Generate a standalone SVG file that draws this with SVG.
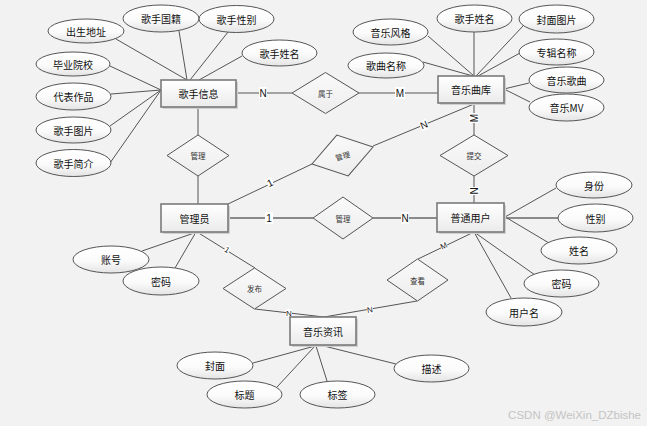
<svg xmlns="http://www.w3.org/2000/svg" width="647" height="426" viewBox="0 0 647 426">
<defs>
<linearGradient id="gE" x1="0" y1="0" x2="0" y2="1"><stop offset="0" stop-color="#ffffff"/><stop offset="0.55" stop-color="#fbfbfb"/><stop offset="1" stop-color="#e4e4e4"/></linearGradient>
<linearGradient id="gR" x1="0" y1="0" x2="0" y2="1"><stop offset="0" stop-color="#ffffff"/><stop offset="1" stop-color="#ebebeb"/></linearGradient>
<linearGradient id="gD" x1="0" y1="0" x2="0" y2="1"><stop offset="0" stop-color="#fafafa"/><stop offset="1" stop-color="#ededed"/></linearGradient>
</defs>
<style>
.e{fill:url(#gE);stroke:#555;stroke-width:1}
.r{fill:url(#gR);stroke:#7a7a7a;stroke-width:1.6}
.rs{fill:#d0d0d0;stroke:none}
.d{fill:url(#gD);stroke:#555;stroke-width:1}
.t{font-family:"Noto Sans CJK SC","Liberation Sans",sans-serif;font-size:10px;fill:#111;text-anchor:middle;dominant-baseline:central}
.dt{font-family:"Noto Sans CJK SC","Liberation Sans",sans-serif;font-size:7.5px;fill:#333;text-anchor:middle;dominant-baseline:central}
.c line{stroke:#555;stroke-width:1}
.c line.thick{stroke:#8a8a8a;stroke-width:2}
.lb{fill:#fff}
.l{font-family:"Liberation Sans",sans-serif;font-size:10px;fill:#111;text-anchor:middle;dominant-baseline:central}
.ls{font-family:"Liberation Sans",sans-serif;font-size:8px;fill:#222;text-anchor:middle;dominant-baseline:central}
</style>
<rect width="647" height="426" fill="#f2f2f2"/>
<g id="connectors" class="c">
<line x1="116" y1="39" x2="187" y2="80"/>
<line x1="179" y1="31" x2="187" y2="80"/>
<line x1="228" y1="32" x2="190" y2="80"/>
<line x1="242" y1="56" x2="199" y2="80"/>
<line x1="110" y1="66" x2="161" y2="90"/>
<line x1="111" y1="94" x2="161" y2="90"/>
<line x1="110" y1="126" x2="161" y2="90"/>
<line x1="110" y1="163" x2="161" y2="90"/>
<line x1="236" y1="93" x2="292" y2="93"/>
<line x1="198" y1="107" x2="198" y2="135"/>
<line x1="198" y1="176" x2="198" y2="204"/>
<line x1="359" y1="93" x2="438" y2="93"/>
<line x1="428" y1="36" x2="474" y2="76"/>
<line x1="474" y1="32" x2="474" y2="76"/>
<line x1="523" y1="26" x2="476" y2="76"/>
<line x1="520" y1="53" x2="478" y2="76"/>
<line x1="423" y1="62" x2="473" y2="76"/>
<line x1="529" y1="83" x2="504" y2="89"/>
<line x1="530" y1="102" x2="504" y2="89"/>
<line x1="474" y1="103" x2="474" y2="135"/>
<line x1="474" y1="176" x2="474" y2="203"/>
<line x1="373" y1="146" x2="474" y2="104"/>
<line x1="228" y1="204" x2="312" y2="164"/>
<line class="thick" x1="228" y1="218" x2="313" y2="218"/>
<line class="thick" x1="373" y1="218" x2="437" y2="218"/>
<line x1="197" y1="232" x2="255" y2="268"/>
<line x1="142" y1="251" x2="197" y2="232"/>
<line x1="175" y1="268" x2="196" y2="232"/>
<line x1="255" y1="309" x2="324" y2="317"/>
<line x1="418" y1="259" x2="474" y2="232"/>
<line x1="417" y1="301" x2="324" y2="317"/>
<line x1="556" y1="188" x2="505" y2="217"/>
<line class="thick" x1="558" y1="218" x2="505" y2="218"/>
<line x1="549" y1="243" x2="507" y2="218"/>
<line x1="474" y1="232" x2="535" y2="275"/>
<line x1="474" y1="232" x2="511" y2="298"/>
<line x1="253" y1="363" x2="315" y2="346"/>
<line x1="277" y1="387" x2="315" y2="346"/>
<line x1="327" y1="381" x2="316" y2="346"/>
<line x1="396" y1="364" x2="320" y2="345"/>
<g id="cardinalities">
<rect class="lb" x="259" y="87" width="8" height="12"/><text class="l" x="263" y="93">N</text>
<rect class="lb" x="395" y="87" width="10" height="12"/><text class="l" x="400" y="93">M</text>
<g transform="translate(474,118) rotate(-90)"><rect class="lb" x="-5" y="-5" width="10" height="10"/><text class="l" x="0" y="0">M</text></g>
<g transform="translate(474,191) rotate(-90)"><rect class="lb" x="-4" y="-5" width="8" height="10"/><text class="l" x="0" y="0">N</text></g>
<g transform="translate(424,125) rotate(-22.6)"><rect class="lb" x="-4" y="-5" width="8" height="10"/><text class="l" x="0" y="0">N</text></g>
<g transform="translate(270,183) rotate(-25.5)"><rect class="lb" x="-3" y="-5" width="6" height="10"/><text class="l" x="0" y="0">1</text></g>
<rect class="lb" x="265" y="212" width="8" height="12"/><text class="l" x="269" y="218">1</text>
<rect class="lb" x="401" y="212" width="8" height="12"/><text class="l" x="405" y="218">N</text>
<g transform="translate(227,250) rotate(31.8)"><rect class="lb" x="-2.5" y="-4" width="5" height="8"/><text class="ls" x="0" y="0">1</text></g>
<g transform="translate(289,313)"><rect class="lb" x="-3" y="-4" width="6" height="8"/><text class="ls" x="0" y="0">N</text></g>
<g transform="translate(444,246) rotate(-25.7)"><rect class="lb" x="-3.5" y="-4" width="7" height="8"/><text class="ls" x="0" y="0">M</text></g>
<g transform="translate(370,310) rotate(-9.8)"><rect class="lb" x="-3" y="-4" width="6" height="8"/><text class="ls" x="0" y="0">N</text></g>
</g>
</g>
<g id="singer">
<rect class="rs" x="163" y="82" width="75" height="27"/>
<rect class="r" x="161" y="80" width="75" height="27"/><text class="t" x="198.5" y="93.5">歌手信息</text>
</g>
<g id="library">
<rect class="rs" x="440" y="78" width="66" height="27"/>
<rect class="r" x="438" y="76" width="66" height="27"/><text class="t" x="471" y="89.5">音乐曲库</text>
</g>
<g id="admin">
<rect class="rs" x="163" y="206" width="67" height="28"/>
<rect class="r" x="161" y="204" width="67" height="28"/><text class="t" x="194.5" y="218">管理员</text>
</g>
<g id="user">
<rect class="rs" x="439" y="205" width="67" height="29"/>
<rect class="r" x="437" y="203" width="67" height="29"/><text class="t" x="470.5" y="217.5">普通用户</text>
</g>
<g id="news">
<rect class="rs" x="292" y="319" width="66" height="28"/>
<rect class="r" x="290" y="317" width="66" height="28"/><text class="t" x="323" y="331">音乐资讯</text>
</g>
<g id="rel-belong"><polygon class="d" points="292,93 325.5,72.5 359,93 325.5,113.5"/><text class="dt" x="325.5" y="93">属于</text></g>
<g id="rel-manage1"><polygon class="d" points="167,155.5 198,135 229,155.5 198,176"/><text class="dt" x="198" y="155.5">管理</text></g>
<g id="rel-manage2" transform="translate(342.5,155.5) rotate(-15.6)"><polygon class="d" points="-31.7,0 0,-21.2 31.7,0 0,21.2"/><text class="dt" x="0" y="0">管理</text></g>
<g id="rel-submit"><polygon class="d" points="440,155.5 474,135 508,155.5 474,176"/><text class="dt" x="474" y="155.5">提交</text></g>
<g id="rel-manage3"><polygon class="d" points="313,218 343,197 373,218 343,239"/><text class="dt" x="343" y="218">管理</text></g>
<g id="rel-view"><polygon class="d" points="387,280 417.5,259 448,280 417.5,301"/><text class="dt" x="417.5" y="280">查看</text></g>
<g id="rel-publish"><polygon class="d" points="223,288.5 254.5,268 286,288.5 254.5,309"/><text class="dt" x="254.5" y="288.5">发布</text></g>
<g id="a-birth"><ellipse class="e" cx="86" cy="31" rx="38" ry="12"/><text class="t" x="86" y="31">出生地址</text></g>
<g id="a-nation"><ellipse class="e" cx="161" cy="18.5" rx="38" ry="13.5"/><text class="t" x="161" y="18.5">歌手国籍</text></g>
<g id="a-sgender"><ellipse class="e" cx="236.5" cy="19" rx="37.5" ry="13.5"/><text class="t" x="236.5" y="19">歌手性别</text></g>
<g id="a-sname"><ellipse class="e" cx="279.5" cy="53" rx="37.5" ry="13"/><text class="t" x="279.5" y="53">歌手姓名</text></g>
<g id="a-school"><ellipse class="e" cx="73" cy="64" rx="37" ry="12"/><text class="t" x="73" y="64">毕业院校</text></g>
<g id="a-works"><ellipse class="e" cx="73.5" cy="96.5" rx="37.5" ry="13.5"/><text class="t" x="73.5" y="96.5">代表作品</text></g>
<g id="a-spic"><ellipse class="e" cx="73.5" cy="130" rx="37.5" ry="13"/><text class="t" x="73.5" y="130">歌手图片</text></g>
<g id="a-sintro"><ellipse class="e" cx="73.5" cy="163" rx="37.5" ry="13.5"/><text class="t" x="73.5" y="163">歌手简介</text></g>
<g id="a-style"><ellipse class="e" cx="390.5" cy="32" rx="37.5" ry="13"/><text class="t" x="390.5" y="32">音乐风格</text></g>
<g id="a-lsname"><ellipse class="e" cx="474.5" cy="18.5" rx="37.5" ry="13.5"/><text class="t" x="474.5" y="18.5">歌手姓名</text></g>
<g id="a-cover"><ellipse class="e" cx="556.5" cy="19" rx="37.5" ry="14"/><text class="t" x="556.5" y="19">封面图片</text></g>
<g id="a-album"><ellipse class="e" cx="556.5" cy="52" rx="37.5" ry="13"/><text class="t" x="556.5" y="52">专辑名称</text></g>
<g id="a-song"><ellipse class="e" cx="386" cy="65.5" rx="38" ry="12.5"/><text class="t" x="386" y="65.5">歌曲名称</text></g>
<g id="a-music"><ellipse class="e" cx="566.5" cy="80" rx="37.5" ry="13"/><text class="t" x="566.5" y="80">音乐歌曲</text></g>
<g id="a-mv"><ellipse class="e" cx="566.5" cy="107.5" rx="37.5" ry="13.5"/><text class="t" x="566.5" y="107.5">音乐MV</text></g>
<g id="a-role"><ellipse class="e" cx="594" cy="185" rx="38" ry="13"/><text class="t" x="594" y="185">身份</text></g>
<g id="a-gender"><ellipse class="e" cx="595.5" cy="218" rx="37.5" ry="14"/><text class="t" x="595.5" y="218">性别</text></g>
<g id="a-name"><ellipse class="e" cx="579" cy="250.5" rx="38" ry="13.5"/><text class="t" x="579" y="250.5">姓名</text></g>
<g id="a-upwd"><ellipse class="e" cx="561.5" cy="283.5" rx="37.5" ry="13.5"/><text class="t" x="561.5" y="283.5">密码</text></g>
<g id="a-uname"><ellipse class="e" cx="524" cy="312" rx="38" ry="14"/><text class="t" x="524" y="312">用户名</text></g>
<g id="a-account"><ellipse class="e" cx="111" cy="259.5" rx="38" ry="13.5"/><text class="t" x="111" y="259.5">账号</text></g>
<g id="a-apwd"><ellipse class="e" cx="161" cy="281" rx="38" ry="14"/><text class="t" x="161" y="281">密码</text></g>
<g id="a-ncover"><ellipse class="e" cx="215" cy="365.5" rx="38" ry="13.5"/><text class="t" x="215" y="365.5">封面</text></g>
<g id="a-title"><ellipse class="e" cx="244.5" cy="394.5" rx="37.5" ry="13.5"/><text class="t" x="244.5" y="394.5">标题</text></g>
<g id="a-tag"><ellipse class="e" cx="337.5" cy="394.5" rx="37.5" ry="13.5"/><text class="t" x="337.5" y="394.5">标签</text></g>
<g id="a-desc"><ellipse class="e" cx="431.5" cy="368.5" rx="37.5" ry="13.5"/><text class="t" x="431.5" y="368.5">描述</text></g>
<text x="641" y="419" font-family="Liberation Sans, sans-serif" font-size="11.5" fill="#c4c4c4" text-anchor="end">CSDN @WeiXin_DZbishe</text>
</svg>
